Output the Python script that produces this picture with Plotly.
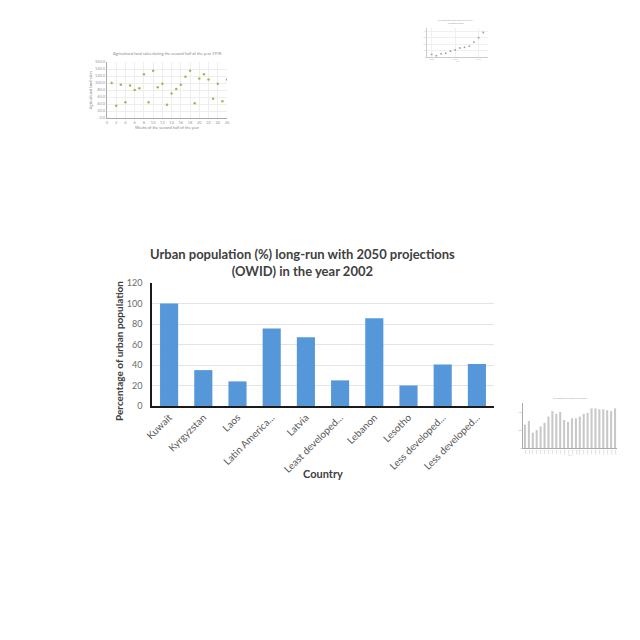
import plotly.graph_objects as go

# Main chart data
countries = ["Kuwait", "Kyrgyzstan", "Laos", "Latin America...", "Latvia",
             "Least developed...", "Lebanon", "Lesotho", "Less developed...", "Less developed..."]
urban_pct = [100, 35, 24, 75.5, 67, 25, 85.5, 20, 40.5, 41]
y_ticks = [0, 20, 40, 60, 80, 100, 120]

# Thumbnail 1: scatter (weeks)
weeks = list(range(1, 27))
land_sales = [100, 35, 95, 45, 93, 80, 85, 125, 45, 135, 88, 98, 38, 70, 83, 95,
              118, 135, 42, 113, 125, 110, 55, 98, 48, 110]

# Thumbnail 2: scatter (years)
years2 = [2000, 2001, 2002, 2003, 2004, 2005, 2006, 2007, 2008, 2009, 2010, 2011]
vals2 = [4, 2, 5, 6, 9, 11, 14, 15, 17, 23, 30, 38]

# Thumbnail 3: bars
years3 = [str(y) for y in range(1990, 2014)]
vals3 = [26000, 30000, 17000, 20000, 24000, 28000, 35000, 41000, 38000, 40000,
         31000, 29000, 33000, 33000, 35000, 38000, 39000, 44000, 44000, 43000,
         43000, 42000, 41000, 44000]

fig = go.Figure()

fig.add_trace(go.Bar(
    x=list(range(len(countries))), y=urban_pct,
    marker=dict(color="#5597d8", line=dict(width=0)),
    xaxis="x", yaxis="y", showlegend=False,
))

fig.add_trace(go.Scatter(
    x=weeks, y=land_sales, mode="markers",
    marker=dict(color="#9bbb59", size=2.5),
    xaxis="x2", yaxis="y2", showlegend=False,
))

fig.add_trace(go.Scatter(
    x=years2, y=vals2, mode="markers",
    marker=dict(color="#9a9a9a", size=1.8),
    xaxis="x3", yaxis="y3", showlegend=False,
))

fig.add_trace(go.Bar(
    x=years3, y=vals3,
    marker=dict(color="#c8c8c8", line=dict(width=0)),
    xaxis="x4", yaxis="y4", showlegend=False,
))

W = 640.0
OFF = 8.0  # page body margin
def px(x):
    return (x - OFF) / W
def py(y):
    return 1 - (y - OFF) / W
def dx(a, b):
    return [px(a), px(b)]
def dy(top, bottom):
    return [py(bottom), py(top)]

fig.update_layout(
    width=640, height=640,
    margin=dict(l=0, r=0, t=0, b=0, autoexpand=False),
    paper_bgcolor="white", plot_bgcolor="white",
    font=dict(family="Lato, Open Sans, sans-serif", color="#595959"),
    bargap=0.47,
    xaxis=dict(
        domain=dx(152, 494), anchor="y", automargin=False,
        tickmode="array", tickvals=list(range(len(countries))), ticktext=countries,
        range=[-0.5, len(countries) - 0.5],
        tickangle=-45, tickfont=dict(size=10, color="#595959"),
        showline=True, linecolor="#1a1a1a", linewidth=1.5,
        showgrid=False, ticks="",
    ),
    yaxis=dict(
        domain=dy(283, 406), anchor="x", automargin=False,
        range=[0, 120], tickmode="array", tickvals=y_ticks,
        tickfont=dict(size=9, color="#6a6a6a"), ticklabelstandoff=6,
        showline=True, linecolor="#1a1a1a", linewidth=1.5,
        showgrid=True, gridcolor="#e4e4e4", zeroline=False, ticks="",
    ),
    xaxis2=dict(
        domain=dx(107, 227), anchor="y2", range=[0, 26], dtick=2, automargin=False,
        tickfont=dict(size=4, color="#999"), showgrid=True, gridcolor="#eeeeee",
        showline=True, linecolor="#aaa", zeroline=False,
        title=dict(text="Weeks of the second half of the year", font=dict(size=4, color="#888"), standoff=2),
    ),
    yaxis2=dict(
        domain=dy(62, 118), anchor="x2", range=[0, 160], dtick=20, tickformat=".1f", automargin=False,
        tickfont=dict(size=4, color="#999"), showgrid=True, gridcolor="#eeeeee",
        showline=True, linecolor="#aaa", zeroline=False,
        title=dict(text="Agricultural land sales", font=dict(size=4, color="#888"), standoff=2),
    ),
    xaxis3=dict(
        domain=dx(427, 488), anchor="y3", range=[1999, 2012], automargin=False,
        tickfont=dict(size=2, color="#bbb"), showgrid=True, gridcolor="#f0f0f0",
        showline=True, linecolor="#ccc", zeroline=False,
        title=dict(text="Year", font=dict(size=2, color="#bbb"), standoff=1),
    ),
    yaxis3=dict(
        domain=dy(28, 57), anchor="x3", range=[0, 45], automargin=False,
        tickfont=dict(size=2, color="#bbb"), showgrid=True, gridcolor="#f0f0f0",
        showline=True, linecolor="#ccc", zeroline=False,
    ),
    xaxis4=dict(
        domain=dx(523, 617), anchor="y4", automargin=False,
        tickfont=dict(size=2, color="#999"), tickangle=-90,
        showline=True, linecolor="#aaa", showgrid=False,
        title=dict(text="Year", font=dict(size=2, color="#bbb"), standoff=1),
    ),
    yaxis4=dict(
        domain=dy(403, 448), anchor="x4", range=[0, 50000], automargin=False,
        tickfont=dict(size=2, color="#999"), showgrid=False,
        showline=True, linecolor="#aaa", zeroline=False,
    ),
    annotations=[
        dict(text="<b>Urban population (%) long-run with 2050 projections<br>(OWID) in the year 2002</b>",
             x=px(302), y=py(262), xref="paper", yref="paper", showarrow=False,
             xanchor="center", yanchor="middle",
             font=dict(size=13, color="#404040"), align="center"),
        dict(text="<b>Country</b>",
             x=px(323), y=py(473), xref="paper", yref="paper", showarrow=False,
             xanchor="center", yanchor="middle",
             font=dict(size=11, color="#404040"), align="center"),
        dict(text="<b>Percentage of urban population</b>", textangle=-90,
             x=px(119), y=py(351), xref="paper", yref="paper", showarrow=False,
             xanchor="center", yanchor="middle",
             font=dict(size=10, color="#404040"), align="center"),
        dict(text="Agricultural land sales during the second half of the year 1978",
             x=px(167), y=py(53), xref="paper", yref="paper", showarrow=False,
             xanchor="center", yanchor="middle",
             font=dict(size=4, color="#888"), align="center"),
        dict(text="Per capita gas (Gross value) OWID, 2011<br>in Western Sahara",
             x=px(456), y=py(22), xref="paper", yref="paper", showarrow=False,
             xanchor="center", yanchor="middle",
             font=dict(size=2, color="#999"), align="center"),
        dict(text="CO₂ emissions by energy of in Sweden",
             x=px(570), y=py(398), xref="paper", yref="paper", showarrow=False,
             xanchor="center", yanchor="middle",
             font=dict(size=2, color="#999"), align="center"),
    ],
)

fig.write_html("out.html")
